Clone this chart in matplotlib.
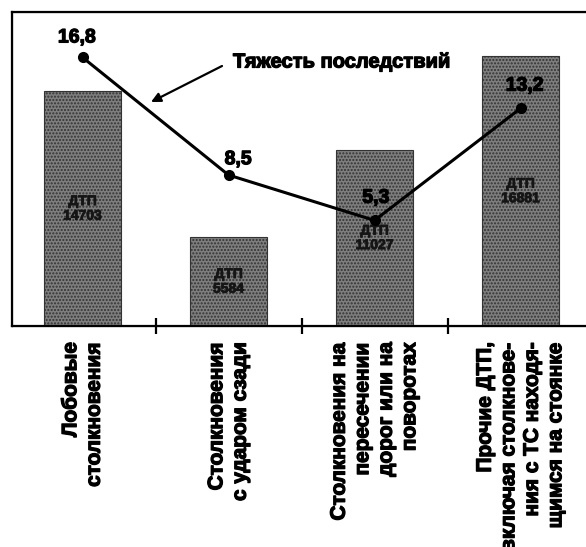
import matplotlib
matplotlib.use("Agg")
import matplotlib.pyplot as plt
import matplotlib.patheffects as pe
import numpy as np

plt.rcParams['font.family'] = ['Liberation Sans', 'DejaVu Sans']
plt.rcParams['font.weight'] = 'bold'

categories = [
    "Лобовые\nстолкновения",
    "Столкновения\nс ударом сзади",
    "Столкновения на\nпересечении\nдорог или на\nповоротах",
    "Прочие ДТП,\nвключая столкнове-\nния с ТС находя-\nщимся на стоянке",
]
dtp_counts = [14703, 5584, 11027, 16881]
severity = [16.8, 8.5, 5.3, 13.2]
severity_labels = ["16,8", "8,5", "5,3", "13,2"]
bar_text_prefix = "ДТП"
line_title = "Тяжесть последствий"

heavy = [pe.withStroke(linewidth=0.9, foreground='black')]

W, H = 586, 547
fig = plt.figure(figsize=(W / 100, H / 100), dpi=100)
ax = fig.add_axes([12 / W, 1 - 326 / H, 584 / W, 314 / H])

x = np.arange(len(categories))
ax.bar(x, dtp_counts, width=0.53, facecolor='#7e7e7e',
       edgecolor='#333333', hatch='.....', linewidth=0.8, zorder=2)
for xi, v in zip(x, dtp_counts):
    ax.text(xi, v * 0.5, f"{bar_text_prefix}\n{v}", ha='center', va='center',
            fontsize=10, fontweight='bold', color='#151515', linespacing=1.05,
            zorder=3, path_effects=[pe.withStroke(linewidth=0.6, foreground='#151515')])

ax.set_xlim(-0.483, 3.517)
ax.set_ylim(0, 19625)
ax.set_yticks([])
ax.set_xticks(x)
ax.set_xticklabels(categories, rotation=90, ha='center', va='top',
                   fontsize=15, fontweight='bold', linespacing=1.3)
for lbl in ax.get_xticklabels():
    lbl.set_multialignment('right')
    lbl.set_path_effects(heavy)
ax.tick_params(axis='x', which='major', length=0, pad=11)
ax.set_xticks([0.5, 1.5, 2.5], minor=True)
ax.tick_params(axis='x', which='minor', direction='inout', length=12,
               width=1.6, color='black')
for s in ax.spines.values():
    s.set_linewidth(1.6)
    s.set_color('black')

ax2 = ax.twinx()
ax2.set_ylim(-2.15, 20.0)
ax2.set_yticks([])
ax2.plot(x, severity, color='black', linewidth=2.2, marker='o',
         markersize=7, zorder=5)
offsets = [(-4, 14), (7, 11), (1, 16), (3, 16)]
for xi, v, lab, off in zip(x, severity, severity_labels, offsets):
    ax2.annotate(lab, (xi, v), xytext=off, textcoords='offset points',
                 ha='center', va='center', fontsize=14, fontweight='bold',
                 color='black', path_effects=heavy)

fig.text(233 / W, 1 - 62 / H, line_title, ha='left', va='center',
         fontsize=14.5, fontweight='bold', path_effects=heavy)
ax2.annotate('', xy=(151 / W, 1 - 102 / H), xycoords='figure fraction',
             xytext=(222 / W, 1 - 66 / H), textcoords='figure fraction',
             arrowprops=dict(arrowstyle='-|>', color='black', lw=1.6,
                             shrinkA=0, shrinkB=0, mutation_scale=14))

fig.savefig("out.png", dpi=100, facecolor='white')
